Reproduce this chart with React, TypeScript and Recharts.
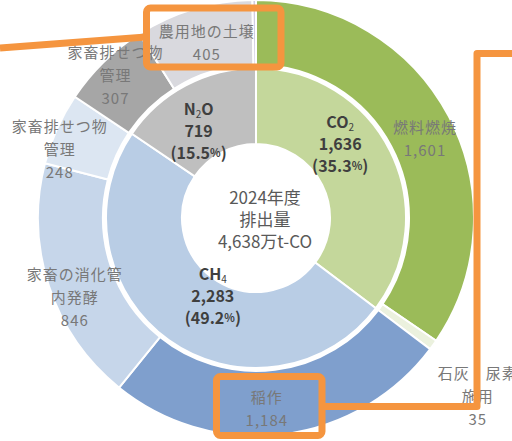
import React from "react";
import { PieChart, Pie, Cell } from "recharts";

// inner ring: gases
const gasNames = ["CO2", "CH4", "N2O"];
const gasValues = [1636, 2283, 719];
const gasColors = ["#c4d79b", "#b9cde5", "#bfbfbf"];

// outer ring: sources
const sourceNames = [
  "燃料燃焼",
  "石灰・尿素\n施用",
  "稲作",
  "家畜の消化管\n内発酵",
  "家畜排せつ物\n管理",
  "家畜排せつ物\n管理",
  "農用地の土壌",
  "",
];
const sourceValues = [1601, 35, 1184, 846, 248, 307, 405, 12];
const sourceColors = ["#9bbb59", "#ebf1de", "#7f9fcd", "#c6d6ea", "#dce6f2", "#a6a6a6", "#d9d9de", "#d0cce2"];

const centerLines = ["2024年度", "排出量", "4,638万t-CO"];

const gasData = gasNames.map((name, i) => ({ name, value: gasValues[i] }));
const sourceData = sourceNames.map((name, i) => ({ name, value: sourceValues[i] }));

const CX = 256;
const CY = 218;
const FONT = "'Noto Sans CJK JP', 'Noto Sans', sans-serif";
const ORANGE = "#f5953f";

// label nudges (layout only)
const outerNudge = [[5, 7], [71, 69], [-12, 6], [-5, 20], [-27, 6], [-11, -11], [4, 2], [0, 0]];
const innerNudge = [[-16, -25], [22, -14], [-5, 11]];

function anchorPoint(props: any, nudge: number[]) {
  const { cx, cy, midAngle, innerRadius, outerRadius } = props;
  const r = (innerRadius + outerRadius) / 2;
  const rad = (-midAngle * Math.PI) / 180;
  return [cx + r * Math.cos(rad) + nudge[0], cy + r * Math.sin(rad) + nudge[1]];
}

function OuterLabel(props: any) {
  const { index, payload } = props;
  const name = payload?.name ?? props.name;
  if (!name) return null;
  const [x, y] = anchorPoint(props, outerNudge[index]);
  const lines = [...name.split("\n"), Number(props.value).toLocaleString("en-US")];
  const step = 23;
  return (
    <text x={x} y={y} textAnchor="middle" fill="#787878" fontSize={15} fontFamily={FONT} letterSpacing={1}>
      {lines.map((l, i) => (
        <tspan key={i} x={x} y={y + (i - (lines.length - 1) / 2) * step} dominantBaseline="central">
          {l}
        </tspan>
      ))}
    </text>
  );
}

function formula(name: string, y: number, x: number) {
  const parts = name.split(/(\d)/).filter((p) => p !== "");
  return (
    <tspan x={x} y={y} dominantBaseline="central">
      {parts.map((p, i) =>
        /\d/.test(p) ? (
          <tspan key={i} fontSize={10} dy={5} fontWeight="normal">
            {p}
          </tspan>
        ) : (
          <tspan key={i} dy={i > 0 && /\d/.test(parts[i - 1]) ? -5 : 0}>
            {p}
          </tspan>
        )
      )}
    </tspan>
  );
}

function InnerLabel(props: any) {
  const { index, percent, value } = props;
  const name = props.payload?.name ?? props.name;
  const [x, y] = anchorPoint(props, innerNudge[index]);
  const step = 22;
  return (
    <text x={x} y={y} textAnchor="middle" fill="#3f3f3f" fontSize={16} fontWeight="bold" fontFamily={FONT}>
      {formula(name, y - step, x)}
      <tspan x={x} y={y} dominantBaseline="central">
        {Number(value).toLocaleString("en-US")}
      </tspan>
      <tspan x={x} y={y + step} dominantBaseline="central">
        ({(percent * 100).toFixed(1)}
        <tspan fontSize={11}>%</tspan>)
      </tspan>
    </text>
  );
}

export default function App() {
  return (
    <div style={{ position: "absolute", left: 0, top: 0, width: 512, height: 441, background: "#fff" }}>
      <PieChart width={512} height={441} margin={{ top: 0, right: 0, bottom: 0, left: 0 }}>
        <Pie
          data={sourceData}
          dataKey="value"
          nameKey="name"
          cx={CX}
          cy={CY}
          innerRadius={153}
          outerRadius={218}
          startAngle={90}
          endAngle={-270}
          stroke="#fff"
          strokeWidth={2}
          label={OuterLabel}
          labelLine={false}
          isAnimationActive={false}
        >
          {sourceData.map((d, i) => (
            <Cell key={i} fill={sourceColors[i]} />
          ))}
        </Pie>
        <Pie
          data={gasData}
          dataKey="value"
          nameKey="name"
          cx={CX}
          cy={CY}
          innerRadius={74}
          outerRadius={150}
          startAngle={90}
          endAngle={-270}
          stroke="#fff"
          strokeWidth={2}
          label={InnerLabel}
          labelLine={false}
          isAnimationActive={false}
        >
          {gasData.map((d, i) => (
            <Cell key={i} fill={gasColors[i]} />
          ))}
        </Pie>
        <text x={265} y={196} textAnchor="middle" fill="#595959" fontSize={17} fontFamily={FONT}>
          {centerLines.map((l, i) => (
            <tspan key={i} x={265} y={196 + i * 22} dominantBaseline="central">
              {l}
            </tspan>
          ))}
        </text>
      </PieChart>
      <svg
        width={512}
        height={441}
        style={{ position: "absolute", left: 0, top: 0, pointerEvents: "none" }}
      >
        <g fill="none" stroke={ORANGE} strokeWidth={7} strokeLinejoin="round">
          <line x1={0} y1={48} x2={146} y2={37} />
          <rect x={146.5} y={8} width={134.5} height={59} rx={4} />
          <rect x={216.5} y={376.5} width={105.5} height={59} rx={4} />
          <polyline points="322,406.5 477,406.5 477,53.5 512,53.5" />
        </g>
      </svg>
    </div>
  );
}
